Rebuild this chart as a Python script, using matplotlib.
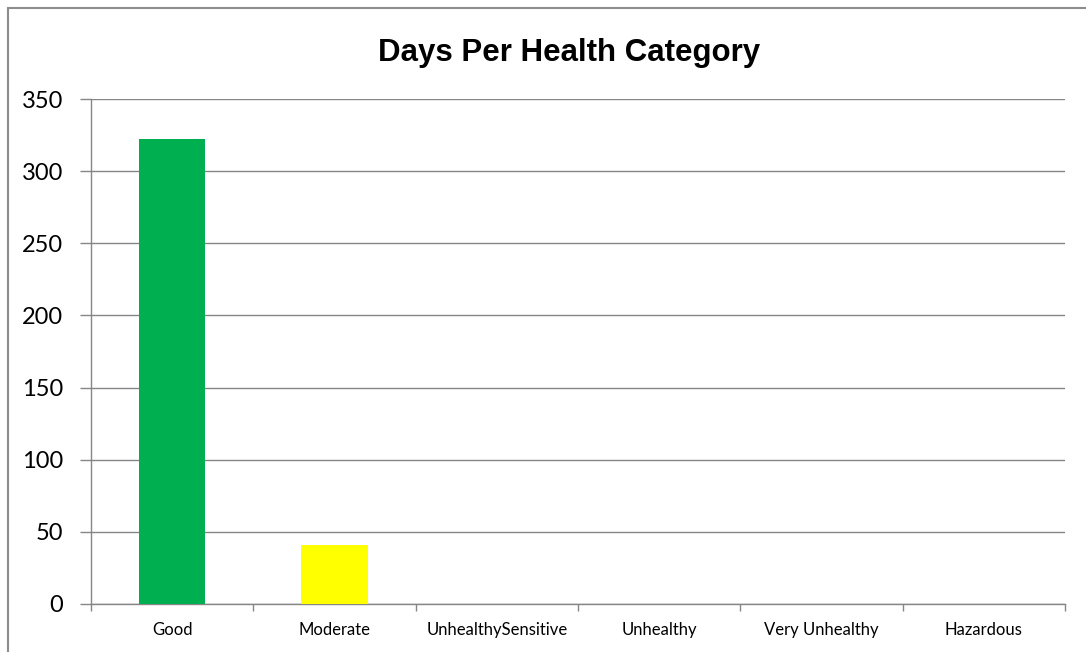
"""Days per air-quality health category, Excel-style bar chart."""
import matplotlib

matplotlib.use("Agg")
import matplotlib.pyplot as plt
from matplotlib.patches import Rectangle
import numpy as np

CATEGORIES = ["Good", "Moderate", "UnhealthySensitive", "Unhealthy", "Very Unhealthy", "Hazardous"]
DAYS = [322, 41, 0, 0, 0, 0]
BAR_COLORS = ["#00B050", "#FFFF00", "#FF9900", "#FF0000", "#990066", "#7E0023"]
Y_TICKS = [0, 50, 100, 150, 200, 250, 300, 350]

GRID_COLOR = "#868686"

fig = plt.figure(figsize=(10.86, 6.52), dpi=100)
ax = fig.add_axes([91 / 1086, 48 / 652, 974 / 1086, 505 / 652])

x = np.arange(len(CATEGORIES))
ax.bar(x, DAYS, width=0.41, color=BAR_COLORS, zorder=3)

ax.set_xlim(-0.5, len(CATEGORIES) - 0.5)
ax.set_ylim(0, 350)
ax.set_yticks(Y_TICKS)
ax.set_yticklabels([str(v) for v in Y_TICKS], fontsize=17, family="Lato")
ax.set_xticks(x)
ax.set_xticklabels(CATEGORIES, fontsize=12, family="Lato")
ax.set_xticks(np.arange(-0.5, len(CATEGORIES)), minor=True)

ax.tick_params(axis="x", which="major", length=0, pad=13)
ax.tick_params(axis="x", which="minor", length=5, width=1, color=GRID_COLOR)
ax.tick_params(axis="y", length=8, width=1, color=GRID_COLOR, pad=12)

ax.grid(True, axis="y", color=GRID_COLOR, linewidth=1, zorder=0)
for side in ("top", "right"):
    ax.spines[side].set_visible(False)
for side in ("left", "bottom"):
    ax.spines[side].set_color(GRID_COLOR)
    ax.spines[side].set_linewidth(1)

fig.text(569 / 1086, 1 - 53 / 652, "Days Per Health Category", ha="center", va="center",
         fontsize=22.5, fontweight="bold", family="Liberation Sans")

# chart area border (runs past the right/bottom of the image)
fig.patches.append(Rectangle((8 / 1086, -0.1), 1.2, 1.1 - 8 / 652, transform=fig.transFigure,
                             fill=False, edgecolor="#8C8C8C", linewidth=1.5))

fig.savefig("out.png", dpi=100)
